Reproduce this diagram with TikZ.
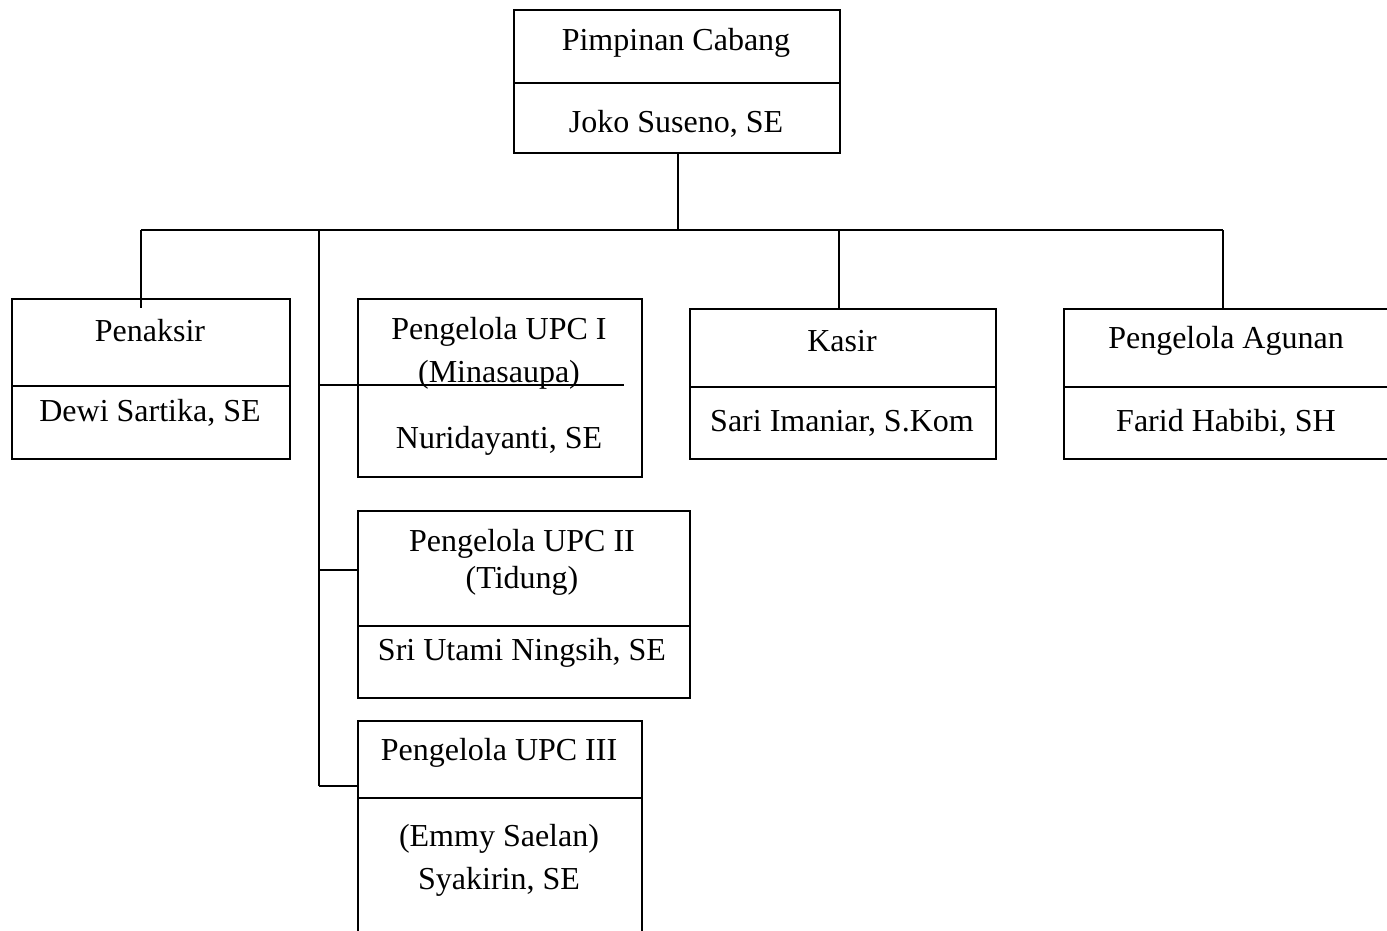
\documentclass[tikz,border=0pt]{standalone}
\usepackage{fontspec}
\setmainfont{Liberation Serif}
\usepackage{tikz}

\begin{document}
\begin{tikzpicture}[x=1pt,y=-1pt,line width=1.6pt,
  part/.style 2 args={draw,minimum width=#1,minimum height=#2,inner sep=0pt,anchor=north west},
  txt/.style={font=\fontsize{32}{43}\selectfont,align=center,inner sep=0pt}]

  \useasboundingbox (0,0) rectangle (1387,931);
  \clip (0,0) rectangle (1387,931);

  % kotak jabatan
  \node[part={326pt}{73pt}] (pc) at (513,9) {};
  \node[part={326pt}{70pt}] (pcn) at (513,82) {};
  \node[part={278pt}{87pt}] (pen) at (11,298) {};
  \node[part={278pt}{73pt}] (penn) at (11,385) {};
  \node[part={284pt}{178pt}] (upc1) at (357,298) {};
  \node[part={306pt}{78pt}] (kas) at (689,308) {};
  \node[part={306pt}{72pt}] (kasn) at (689,386) {};
  \node[part={330pt}{78pt}] (agu) at (1063,308) {};
  \node[part={330pt}{72pt}] (agun) at (1063,386) {};
  \node[part={332pt}{115pt}] (upc2) at (357,510) {};
  \node[part={332pt}{72pt}] (upc2n) at (357,625) {};
  \node[part={284pt}{77pt}] (upc3) at (357,720) {};
  \node[part={284pt}{150pt}] (upc3n) at (357,797) {};

  % teks
  \node[txt] (pc-t) at (676,43) {Pimpinan Cabang};
  \node[txt] (pcn-t) at (676,124) {Joko Suseno, SE};
  \node[txt] (pen-t) at (150,331) {Penaksir};
  \node[txt] (penn-t) at (150,413) {Dewi Sartika, SE};
  \node[txt] (upc1-t) at (499,353) {Pengelola UPC I\\(Minasaupa)};
  \node[txt] (upc1n-t) at (499,441) {Nuridayanti, SE};
  \node[txt] (kas-t) at (842,341) {Kasir};
  \node[txt] (kasn-t) at (842,423) {Sari Imaniar, S.Kom};
  \node[txt] (agu-t) at (1226,341) {Pengelola Agunan};
  \node[txt] (agun-t) at (1226,423) {Farid Habibi, SH};
  \node[txt] (upc2-t) at (522,562) {Pengelola UPC II\\[-6pt](Tidung)};
  \node[txt] (upc2n-t) at (522,653) {Sri Utami Ningsih, SE};
  \node[txt] (upc3-t) at (499,753) {Pengelola UPC III};
  \node[txt] (upc3n-t) at (499,860) {(Emmy Saelan)\\Syakirin, SE};

  % garis
  \coordinate (bus) at (678,230);
  \coordinate (busL) at (141,230);
  \coordinate (busR) at (1223,230);
  \coordinate (j0) at (319,230);
  \coordinate (j1) at (319,385);
  \coordinate (j2) at (319,570);
  \coordinate (j3) at (319,786);
  \coordinate (upc1div) at (624,385);

  \draw (pcn.south -| bus) -- (bus);
  \draw (busL) -- (busR);
  \draw (busL) -- ([yshift=-10pt]busL |- pen.north);
  \draw (kas.north -| 839,0) -- (839,230);
  \draw (busR) -- (busR |- agu.north);
  \draw (j0) -- (j3);
  \draw (j1) -- (upc1div);
  \draw (j2) -- (j2 -| upc2.west);
  \draw (j3) -- (j3 -| upc3.west);

\end{tikzpicture}
\end{document}
